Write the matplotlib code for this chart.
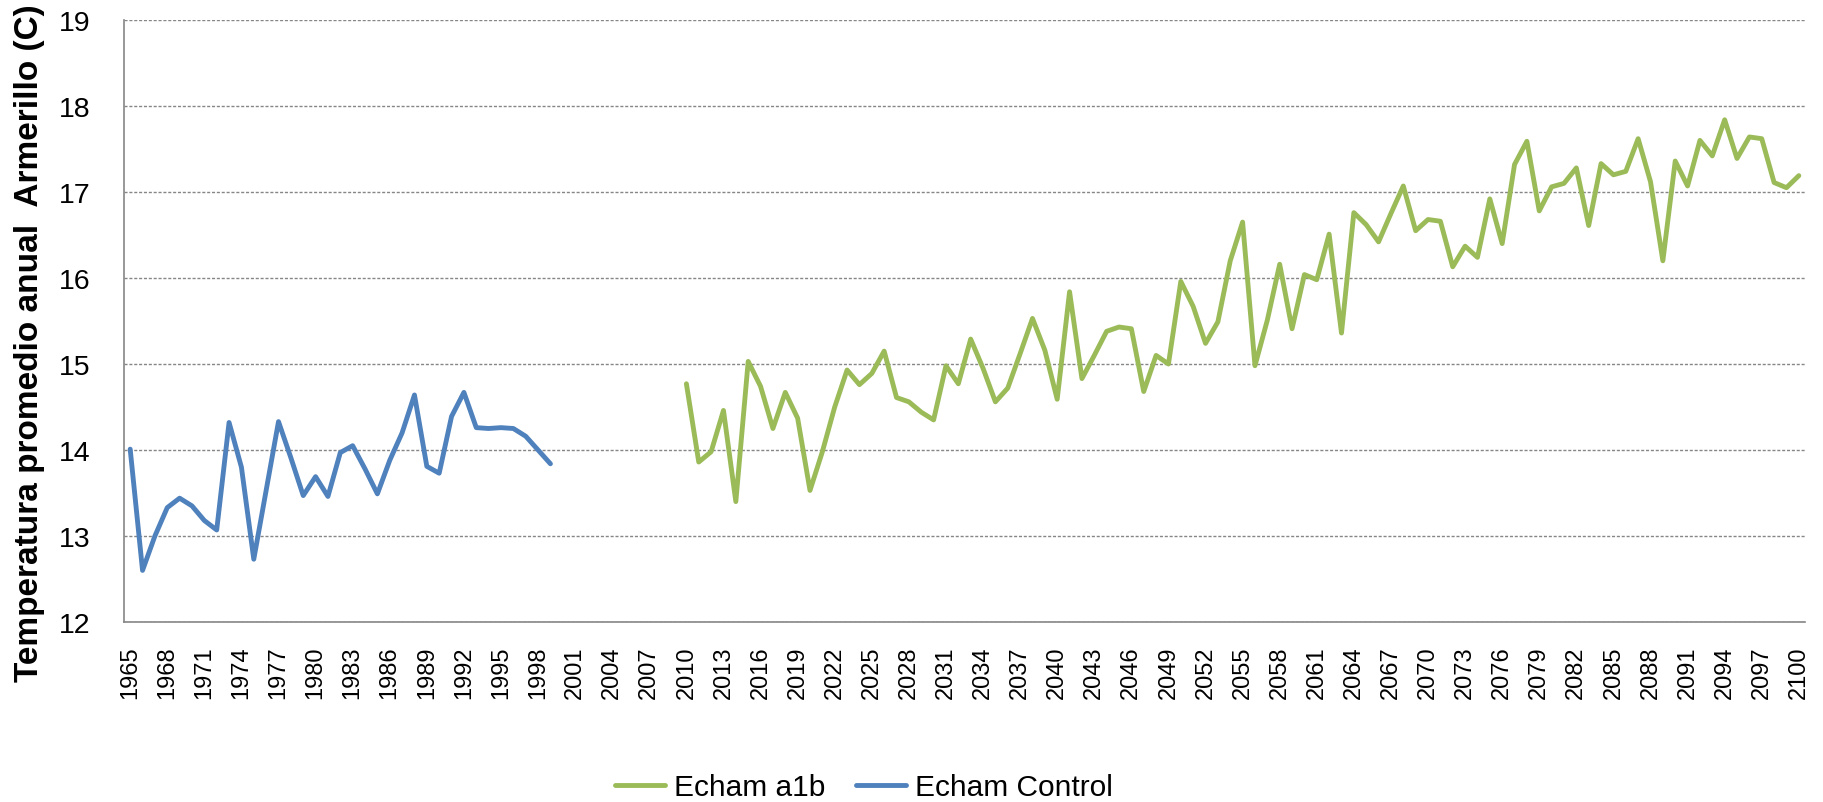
import numpy as np
import matplotlib.pyplot as plt

# Echam Control, 1965-1999
control_years = np.arange(1965, 2000)
control_temp = [14.01, 12.60, 13.00, 13.33, 13.44, 13.35, 13.18, 13.07, 14.32, 13.80,
                12.73, 13.53, 14.33, 13.91, 13.47, 13.69, 13.46, 13.97, 14.05, 13.78,
                13.49, 13.88, 14.20, 14.64, 13.81, 13.73, 14.39, 14.67, 14.26, 14.25,
                14.26, 14.25, 14.16, 14.00, 13.84]

# Echam a1b, 2010-2100
a1b_years = np.arange(2010, 2101)
a1b_temp = [14.77, 13.86, 13.98, 14.46, 13.40, 15.03, 14.74, 14.25, 14.67, 14.37,
            13.53, 13.98, 14.50, 14.93, 14.76, 14.89, 15.15, 14.61, 14.56, 14.44,
            14.35, 14.98, 14.77, 15.29, 14.95, 14.56, 14.72, 15.12, 15.53, 15.16,
            14.59, 15.84, 14.83, 15.10, 15.38, 15.43, 15.41, 14.68, 15.10, 15.00,
            15.96, 15.67, 15.24, 15.49, 16.20, 16.65, 14.98, 15.51, 16.16, 15.41,
            16.04, 15.98, 16.51, 15.36, 16.76, 16.62, 16.42, 16.75, 17.07, 16.55,
            16.68, 16.66, 16.13, 16.37, 16.24, 16.92, 16.40, 17.32, 17.59, 16.78,
            17.06, 17.10, 17.28, 16.61, 17.33, 17.20, 17.24, 17.62, 17.12, 16.20,
            17.36, 17.07, 17.60, 17.42, 17.84, 17.39, 17.64, 17.62, 17.11, 17.05,
            17.19]

xtick_years = np.arange(1965, 2101, 3)
ytick_vals = np.arange(12, 20)

plt.rcParams['font.family'] = ['Liberation Sans', 'DejaVu Sans']

fig = plt.figure(figsize=(18.23, 8.03), dpi=100)
ax = fig.add_axes([124 / 1823, 1 - 623 / 803, (1805 - 124) / 1823, (623 - 21) / 803])

ax.plot(a1b_years, a1b_temp, color="#9BBB59", lw=3.5, label="Echam a1b",
        solid_joinstyle="round", solid_capstyle="round")
ax.plot(control_years, control_temp, color="#4F81BD", lw=3.5, label="Echam Control",
        solid_joinstyle="round", solid_capstyle="round")

ax.set_xlim(1964.5, 2100.5)
ax.set_ylim(12, 19)
ax.set_yticks(ytick_vals)
ax.set_xticks(xtick_years)
ax.set_xticklabels([str(y) for y in xtick_years], rotation=90, fontsize=17)
ax.tick_params(axis="y", labelsize=20.5, length=0, pad=24)
ax.tick_params(axis="x", length=0, pad=17)

ax.grid(axis="y", color="#868686", linestyle=(0, (2.2, 1.3)), linewidth=1)
ax.set_axisbelow(True)
for side in ["top", "right"]:
    ax.spines[side].set_visible(False)
for side in ["left", "bottom"]:
    ax.spines[side].set_color("#868686")
    ax.spines[side].set_linewidth(1.2)

fig.text(30 / 1823, 1 - 343 / 803, "Temperatura promedio anual  Armerillo (C)",
         rotation=90, ha="center", va="center", fontsize=24, fontweight="bold")

fig.legend(loc="center", bbox_to_anchor=(864 / 1823, 1 - 788 / 803), ncol=2,
           frameon=False, fontsize=21.5, handlelength=1.7, handletextpad=0.3,
           columnspacing=1.0)

fig.savefig("out.png", dpi=100)
